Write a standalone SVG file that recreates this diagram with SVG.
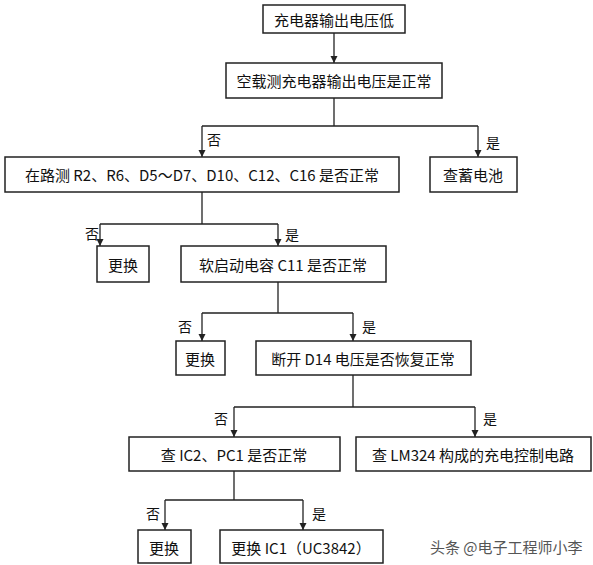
<svg xmlns="http://www.w3.org/2000/svg" width="593" height="565" viewBox="0 0 593 565">
<style>
.b{fill:#fff;stroke:#222;stroke-width:1.5}
.t{font-family:"Noto Sans CJK SC","Liberation Serif",serif;font-size:15px;fill:#111;text-anchor:middle;dominant-baseline:central}
.l{font-family:"Noto Sans CJK SC",serif;font-size:14px;fill:#111}
.c{fill:none;stroke:#222;stroke-width:1.3}
</style>
<defs><marker id="a" viewBox="0 0 10 10" refX="10" refY="5" markerWidth="7" markerHeight="9" orient="auto" markerUnits="userSpaceOnUse"><path d="M0,0L10,5L0,10z" fill="#222"/></marker></defs>
<rect width="593" height="565" fill="#fff"/>
<g id="connectors">
<path class="c" d="M334,33V63" marker-end="url(#a)"/>
<path class="c" d="M334,98V126M202,126H478"/>
<path class="c" d="M202,126V157" marker-end="url(#a)"/><path class="c" d="M478,126V157" marker-end="url(#a)"/>
<path class="c" d="M202,192V224M100,224H278"/>
<path class="c" d="M100,224V246" marker-end="url(#a)"/><path class="c" d="M278,224V246" marker-end="url(#a)"/>
<path class="c" d="M278,282V313M202,313H353"/>
<path class="c" d="M202,313V341" marker-end="url(#a)"/><path class="c" d="M353,313V341" marker-end="url(#a)"/>
<path class="c" d="M353,375V407M234,407H475"/>
<path class="c" d="M234,407V437" marker-end="url(#a)"/><path class="c" d="M475,407V437" marker-end="url(#a)"/>
<path class="c" d="M234,471V500M165,500H303"/>
<path class="c" d="M165,500V530" marker-end="url(#a)"/><path class="c" d="M303,500V530" marker-end="url(#a)"/>
<text class="l" x="207" y="145">否</text><text class="l" x="486" y="148">是</text>
<text class="l" x="85" y="239">否</text><text class="l" x="285" y="240">是</text>
<text class="l" x="178" y="332">否</text><text class="l" x="362" y="332">是</text>
<text class="l" x="214" y="424">否</text><text class="l" x="483" y="424">是</text>
<text class="l" x="146" y="519">否</text><text class="l" x="312" y="519">是</text>
</g>
<g id="n1"><rect class="b" x="263" y="5" width="142" height="28"/><text class="t" x="334" y="19">充电器输出电压低</text></g>
<g id="n2"><rect class="b" x="226" y="63" width="216" height="35"/><text class="t" x="334" y="80">空载测充电器输出电压是正常</text></g>
<g id="n3"><rect class="b" x="5" y="157" width="394" height="35"/><text class="t" x="202" y="174">在路测 R2、R6、D5～D7、D10、C12、C16 是否正常</text></g>
<g id="n4"><rect class="b" x="430" y="157" width="87" height="35"/><text class="t" x="473" y="174">查蓄电池</text></g>
<g id="n5"><rect class="b" x="97" y="246" width="52" height="36"/><text class="t" x="123" y="264">更换</text></g>
<g id="n6"><rect class="b" x="181" y="246" width="205" height="36"/><text class="t" x="283" y="264">软启动电容 C11 是否正常</text></g>
<g id="n7"><rect class="b" x="176" y="341" width="49" height="34"/><text class="t" x="200" y="358">更换</text></g>
<g id="n8"><rect class="b" x="256" y="341" width="215" height="34"/><text class="t" x="363" y="358">断开 D14 电压是否恢复正常</text></g>
<g id="n9"><rect class="b" x="129" y="437" width="211" height="34"/><text class="t" x="234" y="454">查 IC2、PC1 是否正常</text></g>
<g id="n10"><rect class="b" x="356" y="437" width="235" height="34"/><text class="t" x="473" y="454">查 LM324 构成的充电控制电路</text></g>
<g id="n11"><rect class="b" x="138" y="530" width="53" height="33"/><text class="t" x="164" y="547">更换</text></g>
<g id="n12"><rect class="b" x="220" y="530" width="163" height="33"/><text class="t" x="301" y="547">更换 IC1（UC3842）</text></g>
<text x="430" y="553" font-family="Noto Sans CJK SC,sans-serif" font-size="15" fill="#555">头条 @电子工程师小李</text>
</svg>
